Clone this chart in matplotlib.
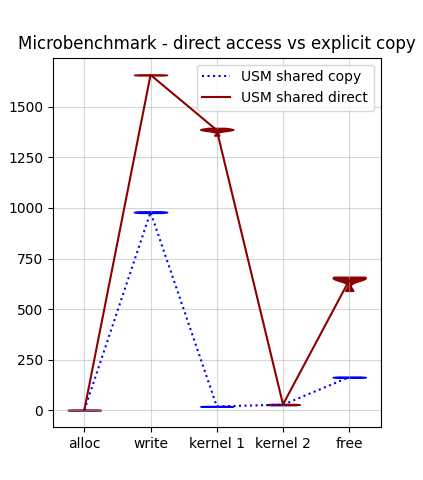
"""Microbenchmark violin plot: USM shared direct access vs explicit copy."""
import matplotlib

matplotlib.use("Agg")
import matplotlib.pyplot as plt
import numpy as np

categories = ["alloc", "write", "kernel 1", "kernel 2", "free"]

# timings per stage
copy_alloc = [0.5, 1.0, 1.5, 2.0, 2.5]
copy_write = [975, 976, 977, 978, 979, 980, 981, 982, 983]
copy_kernel1 = [18, 19, 20, 21, 22]
copy_kernel2 = [26, 27, 28, 29, 30]
copy_free = [161, 162, 163, 164, 165, 166, 167]

direct_alloc = [0.0, 1.0, 2.0, 3.0, 4.0]
direct_write = [1654, 1655, 1656, 1657, 1658, 1659]
direct_kernel1 = [1380, 1383, 1385, 1386, 1387, 1388, 1389, 1391, 1393, 1395,
                  1384, 1386, 1388, 1385, 1387, 1357, 1357]
direct_kernel2 = [27, 28, 29, 30, 31, 32]
direct_free = [648, 650, 652, 653, 654, 655, 656, 657, 658, 659, 660, 653, 655,
               590, 590, 590]

series = [
    ("USM shared copy", "blue", ":",
     [copy_alloc, copy_write, copy_kernel1, copy_kernel2, copy_free]),
    ("USM shared direct", "darkred", "-",
     [direct_alloc, direct_write, direct_kernel1, direct_kernel2, direct_free]),
]

fig, ax = plt.subplots(figsize=(4.23, 4.8), dpi=100)
positions = np.arange(1, len(categories) + 1)

for label, color, style, data in series:
    parts = ax.violinplot(data, positions=positions, showextrema=False)
    for pc in parts["bodies"]:
        pc.set_facecolor(color)
        pc.set_edgecolor(color)
        pc.set_alpha(1)
    means = [np.mean(d) for d in data]
    ax.plot(positions, means, style, color=color, label=label)

ax.set_xticks(positions)
ax.set_xticklabels(categories)
ax.grid(alpha=0.5)
ax.legend(loc="upper right")
ax.set_title("Microbenchmark - direct access vs explicit copy")

fig.savefig("out.png", dpi=100)
